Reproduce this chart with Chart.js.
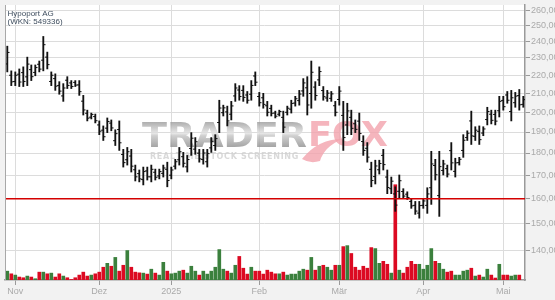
<!DOCTYPE html>
<html>
<head>
<meta charset="utf-8">
<script src="https://cdn.jsdelivr.net/npm/chart.js@4.4.1/dist/chart.umd.min.js"></script>
<style>
  html,body{margin:0;padding:0;background:#f2f2f2}
  canvas{display:block}
</style>
</head>
<body>
<canvas id="chart" width="555" height="300"></canvas>
<script>
// x = trading day index, 0 = 30.10.2024
const tickIdx    = [2, 23, 41, 63, 83, 104, 124];
const tickLabels = ['Nov', 'Dez', '2025', 'Feb', 'Mär', 'Apr', 'Mai'];
const priceTicks = [140, 150, 160, 170, 180, 190, 200, 210, 220, 230, 240, 250, 260];
const supportLevel = 160;

const opens = [
  226.4,219.9,216.4,220.5,221.4,219.0,223.1,221.5,226.2,228.6,
  230.4,216.4,218.0,214.2,208.5,217.1,215.6,215.9,214.5,205.7,
  199.4,197.4,197.7,193.5,190.9,191.9,194.4,185.8,191.2,179.3,
  176.9,178.6,172.4,170.7,168.1,171.9,169.3,171.3,169.7,170.8,
  172.6,170.0,174.0,176.9,178.3,173.7,182.1,181.8,179.9,177.0,
  176.0,182.4,183.5,194.7,199.7,200.1,198.9,208.5,211.7,211.5,
  209.0,209.4,219.5,208.2,207.5,203.3,201.9,199.5,198.9,197.3,
  199.9,201.5,204.7,206.0,211.2,212.9,209.8,213.3,217.3,211.4,
  207.4,207.2,203.3,206.6,198.3,193.5,197.3,194.1,195.4,185.4,
  182.2,172.6,169.4,172.4,178.9,169.2,164.2,162.0,163.1,163.0,
  161.9,158.9,157.3,154.2,157.3,157.3,164.6,174.3,161.3,172.1,
  172.9,181.1,171.7,175.6,181.2,187.3,195.5,187.9,190.3,189.5,
  196.2,198.9,198.8,200.7,206.1,209.0,200.3,204.9,208.7,204.0
];
const highs = [
  237.0,222.4,221.8,223.5,224.7,230.4,225.8,225.8,228.1,243.0,
  233.4,221.8,220.7,216.3,215.2,219.1,216.9,216.9,216.9,208.8,
  201.0,199.5,199.0,195.5,193.0,197.0,196.0,191.1,195.5,181.7,
  182.6,181.7,174.5,172.3,173.6,173.6,174.5,172.7,172.7,174.5,
  175.8,173.6,177.1,182.6,180.3,178.9,189.7,187.3,181.7,181.7,
  181.7,187.3,188.7,206.2,203.6,203.1,205.6,215.2,214.1,214.1,
  210.9,216.9,221.8,210.4,209.9,205.6,203.6,200.5,201.0,200.5,
  203.1,206.2,208.3,211.5,218.0,219.1,228.1,216.3,224.7,213.6,
  211.5,210.9,205.6,213.6,205.6,204.6,201.0,196.0,199.5,188.2,
  184.9,175.8,176.7,176.7,181.7,172.3,169.2,165.0,170.1,164.2,
  162.9,160.1,158.9,158.9,160.1,164.6,180.8,177.1,180.8,176.7,
  174.5,184.9,177.6,178.0,188.7,190.6,200.5,192.6,193.0,192.6,
  202.5,201.0,201.0,208.3,208.3,210.9,211.5,210.4,212.0,208.3
];
const lows = [
  221.8,214.1,214.1,213.6,213.6,214.1,216.9,219.6,221.8,222.4,
  223.5,214.1,211.5,209.4,205.6,212.5,212.5,213.6,208.8,198.5,
  195.5,196.5,194.5,188.7,185.9,189.7,190.6,183.5,181.2,173.6,
  174.5,171.4,167.5,167.1,165.8,167.9,167.1,167.9,168.4,169.2,
  165.0,168.4,172.7,174.5,173.6,171.4,178.9,179.4,175.8,174.9,
  173.6,180.3,181.2,189.7,198.0,193.0,196.0,205.6,206.2,205.6,
  204.6,206.2,214.1,203.1,202.0,198.0,198.0,197.0,198.0,189.7,
  198.5,199.5,203.1,203.6,208.3,198.5,202.0,206.2,214.1,206.2,
  205.6,205.6,198.0,203.6,181.2,188.7,188.7,189.7,185.9,178.9,
  175.8,165.0,166.2,170.5,172.3,162.1,162.1,154.9,160.1,160.1,
  159.7,156.1,153.7,152.2,156.1,154.1,157.7,167.9,152.9,170.1,
  169.2,172.3,169.2,174.5,178.0,185.9,184.0,185.9,184.0,188.2,
  193.5,194.0,193.5,197.5,201.0,204.6,195.5,202.5,201.0,202.5
];
const closes = [
  233.2,216.2,219.9,216.1,216.4,226.3,219.1,224.3,223.4,237.9,
  226.0,219.9,213.8,211.1,212.8,214.2,213.6,214.4,210.8,201.1,
  196.9,198.8,195.6,190.4,187.7,195.2,192.0,189.2,184.8,175.6,
  180.6,174.0,169.3,168.4,171.6,169.3,172.6,169.1,171.6,173.2,
  167.7,172.3,176.0,180.6,175.3,177.0,187.0,185.3,177.3,180.0,
  179.7,185.5,186.8,202.1,202.2,195.5,203.2,212.8,208.2,207.7,
  206.2,214.2,216.0,204.9,204.0,199.9,199.4,197.9,200.3,192.4,
  202.0,204.5,207.0,209.5,215.6,203.7,221.6,208.7,222.0,208.1,
  210.0,209.6,199.9,211.1,187.3,200.6,191.8,191.3,189.3,181.2,
  178.1,167.7,174.1,175.2,174.7,164.7,167.4,157.4,167.6,161.1,
  160.5,157.1,155.0,157.2,159.1,162.0,175.0,170.2,173.8,175.0,
  170.5,175.5,175.5,177.1,186.0,189.4,188.1,190.9,186.3,191.5,
  200.3,195.8,195.4,205.6,202.8,206.2,207.5,208.4,203.8,206.5
];
// volume, thousand shares (approx.)
const volumes = [
  9,6.3,5,3,2.3,4,3,1.3,8,8,
  6.3,7,3,6.3,4,2.3,0.5,2.3,5,8,
  4,5,6.3,8,13,17,14,23,9,15,
  30,13,8,7.3,7,6,11,7,5,18,
  9,6.3,7,9,10,7,14,9,5,9,
  6,9,13,31,11,9,7,15,24,12,
  6,13,9,9,6,10,8,6.3,6.3,8,
  5,6,6,9,11,10,23,10,14,15,
  13,10,15,15,34,35,27,13,10,14,
  12,33,32,17,19,16,7,97,10,7,
  13,19,16,16,11,15,32,19,17,11,
  8,9,5,5,9,10,12,4,5,3,
  11,5,2,16,5,5,4,5,5,null
];

const GREEN = '#3b803d', RED = '#dc0a22', GRID = '#dcdcdc', AXIS = '#9a9a9a', TXT = '#aaaaaa';
const FONT = {family: '"Liberation Sans", Arial, sans-serif', size: 9};
const fmt = v => v.toFixed(2).replace('.', ',');

const frame = {
  id: 'frame',
  beforeDraw(c) {
    const {ctx, chartArea: a} = c;
    ctx.save();
    ctx.fillStyle = '#f2f2f2'; ctx.fillRect(0, 0, c.width, c.height);
    ctx.fillStyle = '#fff'; ctx.fillRect(a.left, a.top, a.right - a.left, a.bottom - a.top);
    ctx.restore();
  },
  beforeDatasetsDraw(c) {
    // TRADERFOX watermark
    const ctx = c.ctx;
    ctx.save();
    ctx.globalAlpha = 0.8;
    ctx.font = 'bold 34px "DejaVu Sans"';
    let w = ctx.measureText('TRADER').width;
    ctx.save();
    ctx.translate(142, 147); ctx.scale(165 / w, 1);
    const g = ctx.createLinearGradient(0, -25, 0, 0);
    g.addColorStop(0, '#9a9a9a'); g.addColorStop(0.45, '#e2e2e2'); g.addColorStop(0.55, '#c4c4c4'); g.addColorStop(1, '#8e8e8e');
    ctx.fillStyle = g; ctx.fillText('TRADER', 0, 0);
    ctx.restore();
    w = ctx.measureText('FOX').width;
    ctx.save();
    ctx.translate(308, 146); ctx.scale(80 / w, 1);
    ctx.fillStyle = '#f3a3ac'; ctx.fillText('FOX', 0, 0);
    ctx.restore();
    // tail swoosh
    ctx.fillStyle = '#f3a3ac';
    ctx.beginPath();
    ctx.moveTo(302, 159);
    ctx.quadraticCurveTo(318, 139, 342, 139);
    ctx.quadraticCurveTo(324, 147, 320, 161);
    ctx.quadraticCurveTo(310, 164, 302, 159);
    ctx.fill();
    // subtitle
    const sub = 'REALTIME STOCK SCREENING';
    ctx.font = 'bold 8px "DejaVu Sans"';
    ctx.fillStyle = '#cfcfcf';
    ctx.textBaseline = 'middle';
    const w0 = ctx.measureText(sub).width;
    const sp = (147 - w0) / (sub.length - 1);
    let x = 150;
    for (const ch of sub) { ctx.fillText(ch, x, 157); x += ctx.measureText(ch).width + sp; }
    ctx.restore();
  },
  afterDatasetsDraw(c) {
    const {ctx, chartArea: a, scales: {y}} = c;
    const py = y.getPixelForValue(supportLevel);
    ctx.save();
    ctx.strokeStyle = '#d40000'; ctx.lineWidth = 1.5;
    ctx.beginPath(); ctx.moveTo(a.left, py); ctx.lineTo(a.right, py); ctx.stroke();
    ctx.strokeStyle = '#a8a8a8'; ctx.lineWidth = 1;
    ctx.beginPath(); ctx.moveTo(a.left + 0.5, a.top); ctx.lineTo(a.left + 0.5, a.bottom); ctx.stroke();
    ctx.restore();
  },
  afterDraw(c) {
    const ctx = c.ctx;
    ctx.save();
    ctx.font = '8px "Liberation Sans", Arial, sans-serif';
    ctx.fillStyle = '#3e4d5e';
    ctx.fillText('Hypoport AG', 7.5, 15.5);
    ctx.fillText('(WKN: 549336)', 7.5, 23.5);
    ctx.restore();
  }
};

const idx = opens.map((_, i) => i);

new Chart(document.getElementById('chart'), {
  type: 'bar',
  data: {
    datasets: [
      {type: 'line', data: idx.map(i => ({x: i - 0.28, y: opens[i]})), yAxisID: 'y', showLine: false,
       pointStyle: 'line', pointRadius: 1.1, pointBorderWidth: 1, pointBorderColor: '#111', order: 1},
      {type: 'line', data: idx.map(i => ({x: i + 0.28, y: closes[i]})), yAxisID: 'y', showLine: false,
       pointStyle: 'line', pointRadius: 1.1, pointBorderWidth: 1, pointBorderColor: '#111', order: 1},
      {type: 'bar', data: idx.map(i => ({x: i, y: [lows[i], highs[i]]})), yAxisID: 'y',
       backgroundColor: '#111', barThickness: 1.2, grouped: false, borderWidth: 0, order: 2},
      {type: 'bar', data: idx.map(i => ({x: i, y: volumes[i]})), yAxisID: 'v',
       backgroundColor: idx.map(i => closes[i] >= opens[i] ? GREEN : RED),
       barThickness: 3, grouped: false, borderWidth: 0, order: 3}
    ]
  },
  options: {
    responsive: false, devicePixelRatio: 1, animation: false, events: [],
    layout: {padding: {left: 5, top: 0, right: 0, bottom: 0}},
    plugins: {legend: {display: false}, tooltip: {enabled: false}},
    scales: {
      x: {
        type: 'linear', min: -0.575, max: 129.425, offset: false,
        grid: {color: GRID, tickLength: 5, tickColor: AXIS, offset: false},
        border: {color: AXIS, width: 1.5},
        ticks: {font: FONT, color: TXT, padding: 1, maxRotation: 0, autoSkip: false,
                callback: (v, i) => tickLabels[i]},
        afterBuildTicks: s => { s.ticks = tickIdx.map(v => ({value: v})); },
        afterFit: s => { s.height = 20; s.paddingLeft = 0; s.paddingRight = 0; }
      },
      y: {
        type: 'logarithmic', position: 'right', min: 129.8, max: 263.5, bounds: 'data',
        grid: {color: GRID, tickLength: 5, tickColor: AXIS},
        border: {color: AXIS, width: 1.5},
        ticks: {font: FONT, color: TXT, padding: 1, autoSkip: false, callback: v => fmt(v)},
        afterBuildTicks: s => { s.ticks = priceTicks.map(v => ({value: v})); },
        afterFit: s => { s.width = 30; s.paddingTop = 0; s.paddingBottom = 0; }
      },
      v: {type: 'linear', display: false, min: 0, max: 280}
    }
  },
  plugins: [frame]
});
</script>
</body>
</html>
